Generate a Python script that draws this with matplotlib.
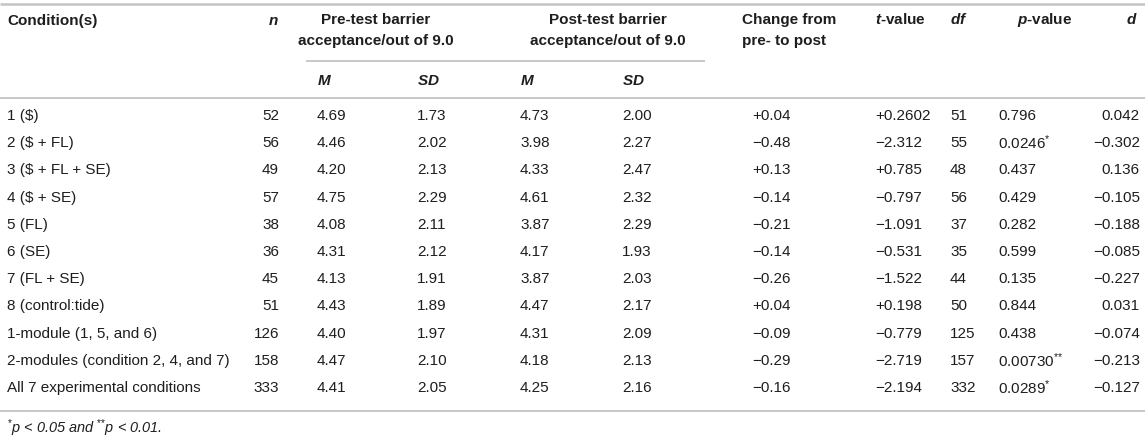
import matplotlib
matplotlib.use("Agg")
import matplotlib.pyplot as plt

plt.rcParams['font.family'] = ['Liberation Sans', 'DejaVu Sans']
plt.rcParams['mathtext.fontset'] = 'custom'
plt.rcParams['mathtext.rm'] = 'Liberation Sans'
plt.rcParams['mathtext.it'] = 'Liberation Sans:italic'
plt.rcParams['mathtext.bf'] = 'Liberation Sans:bold'
plt.rcParams['mathtext.bfit'] = 'Liberation Sans:italic:bold'

# table data
conditions = ["1 ($)", "2 ($ + FL)", "3 ($ + FL + SE)", "4 ($ + SE)", "5 (FL)", "6 (SE)",
              "7 (FL + SE)", "8 (control:tide)", "1-module (1, 5, and 6)",
              "2-modules (condition 2, 4, and 7)", "All 7 experimental conditions"]
n = [52, 56, 49, 57, 38, 36, 45, 51, 126, 158, 333]
pre_m = [4.69, 4.46, 4.20, 4.75, 4.08, 4.31, 4.13, 4.43, 4.40, 4.47, 4.41]
pre_sd = [1.73, 2.02, 2.13, 2.29, 2.11, 2.12, 1.91, 1.89, 1.97, 2.10, 2.05]
post_m = [4.73, 3.98, 4.33, 4.61, 3.87, 4.17, 3.87, 4.47, 4.31, 4.18, 4.25]
post_sd = [2.00, 2.27, 2.47, 2.32, 2.29, 1.93, 2.03, 2.17, 2.09, 2.13, 2.16]
change = [0.04, -0.48, 0.13, -0.14, -0.21, -0.14, -0.26, 0.04, -0.09, -0.29, -0.16]
t_value = ["+0.2602", "−2.312", "+0.785", "−0.797", "−1.091", "−0.531", "−1.522",
           "+0.198", "−0.779", "−2.719", "−2.194"]
df = [51, 55, 48, 56, 37, 35, 44, 50, 125, 157, 332]
p_value = ["0.796", "0.0246", "0.437", "0.429", "0.282", "0.599", "0.135", "0.844",
           "0.438", "0.00730", "0.0289"]
p_stars = ["", "*", "", "", "", "", "", "", "", "**", "*"]
d = [0.042, -0.302, 0.136, -0.105, -0.188, -0.085, -0.227, 0.031, -0.074, -0.213, -0.127]


def fmt_sign(v, nd):
    s = f"{v:+.{nd}f}"
    return s.replace("-", "\u2212")


def fmt_minus(v, nd):
    return f"{v:.{nd}f}".replace("-", "\u2212")


def stars(s):
    # superscript asterisks
    if not s:
        return ""
    return r"$^{" + "".join(["{*}"] * len(s)) + "}$"


W, H = 1145, 438
fig = plt.figure(figsize=(W / 100, H / 100), dpi=100)
ax = fig.add_axes([0, 0, 1, 1])
ax.set_xlim(0, W)
ax.set_ylim(H, 0)
ax.axis("off")

fs = 11
tc = "#1e1e1e"
lc = "#c4c4c4"

# column positions
cx = dict(cond=7, n=279, pre_m=317, pre_sd=417, post_m=520, post_sd=622,
          chg=752, t=875, df=950, p=998, d=1140)

# rules
ax.plot([0, W], [4, 4], color=lc, lw=1.8, solid_capstyle="butt")
ax.plot([306, 705], [61, 61], color=lc, lw=1.3, solid_capstyle="butt")
ax.plot([0, W], [98, 98], color=lc, lw=1.3, solid_capstyle="butt")
ax.plot([0, W], [411, 411], color=lc, lw=1.3, solid_capstyle="butt")

# header
hk = dict(fontsize=fs, color=tc, fontweight="bold", va="center")
ax.text(cx["cond"], 21, "Condition(s)", ha="left", **hk)
ax.text(cx["n"], 21, r"$\mathbfit{n}$", ha="right", **hk)
ax.text(376, 20, "Pre-test barrier", ha="center", **hk)
ax.text(376, 41, "acceptance/out of 9.0", ha="center", **hk)
ax.text(608, 20, "Post-test barrier", ha="center", **hk)
ax.text(608, 41, "acceptance/out of 9.0", ha="center", **hk)
ax.text(742, 20, "Change from", ha="left", **hk)
ax.text(742, 41, "pre- to post", ha="left", **hk)
ax.text(cx["t"], 20, r"$\mathbfit{t}$-value", ha="left", **hk)
ax.text(cx["df"], 20, r"$\mathbfit{df}$", ha="left", **hk)
ax.text(1045, 20, r"$\mathbfit{p}$-value", ha="center", **hk)
ax.text(cx["d"] - 2, 20, r"$\mathbfit{d}$", ha="right", **hk)
for key in ["pre_m", "post_m"]:
    ax.text(cx[key], 81, r"$\mathbfit{M}$", ha="left", **hk)
for key in ["pre_sd", "post_sd"]:
    ax.text(cx[key], 81, r"$\mathbfit{SD}$", ha="left", **hk)

# body
bk = dict(fontsize=fs, color=tc, va="center")
y0, dy = 116, 27.2
for i in range(len(conditions)):
    y = y0 + i * dy
    ax.text(cx["cond"], y, conditions[i], ha="left", parse_math=False, **bk)
    ax.text(cx["n"], y, str(n[i]), ha="right", **bk)
    ax.text(cx["pre_m"], y, f"{pre_m[i]:.2f}", ha="left", **bk)
    ax.text(cx["pre_sd"], y, f"{pre_sd[i]:.2f}", ha="left", **bk)
    ax.text(cx["post_m"], y, f"{post_m[i]:.2f}", ha="left", **bk)
    ax.text(cx["post_sd"], y, f"{post_sd[i]:.2f}", ha="left", **bk)
    ax.text(cx["chg"], y, fmt_sign(change[i], 2), ha="left", **bk)
    ax.text(cx["t"], y, t_value[i], ha="left", **bk)
    ax.text(cx["df"], y, str(df[i]), ha="left", **bk)
    ax.text(cx["p"], y, p_value[i] + stars(p_stars[i]), ha="left", **bk)
    ax.text(cx["d"], y, fmt_minus(d[i], 3), ha="right", **bk)

# footnote
ax.text(cx["cond"], 428, stars("*") + "p < 0.05 and " + stars("**") + "p < 0.01.",
        ha="left", fontsize=fs * 0.95, color=tc, style="italic", va="center")

plt.savefig("out.png", dpi=100)
